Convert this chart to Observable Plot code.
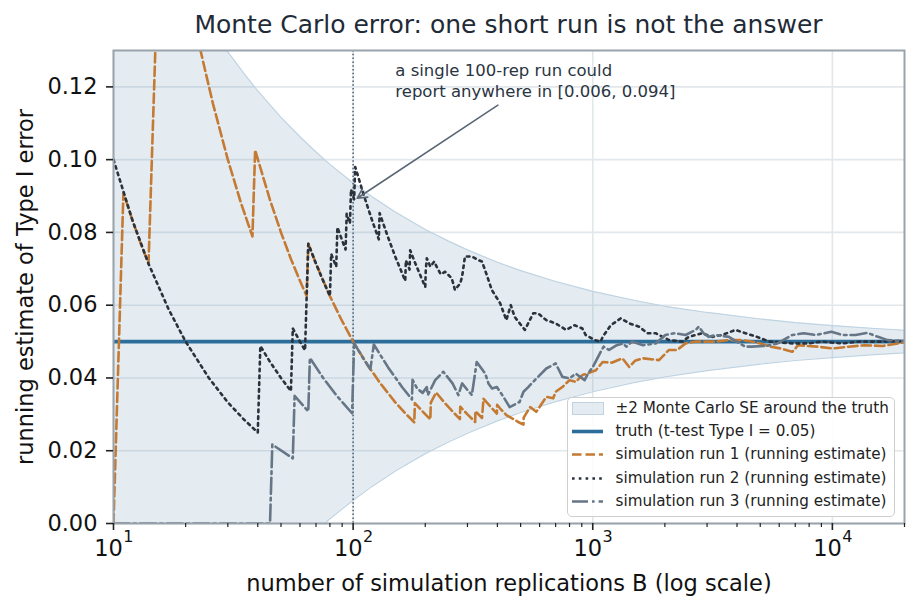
<!DOCTYPE html>
<html>
<head>
<meta charset="utf-8">
<script src="https://cdn.jsdelivr.net/npm/d3@7"></script>
<script src="https://cdn.jsdelivr.net/npm/@observablehq/plot@0.6"></script>
<style>
  html, body { margin: 0; padding: 0; background: #ffffff; }
  body { font-family: "DejaVu Sans", sans-serif; }
  #wrap { position: relative; width: 918px; height: 612px; overflow: hidden; }
  #chart { position: absolute; left: 0; top: 0; }
  #title { position: absolute; left: 113px; width: 791px; top: 9.5px; line-height: 30px;
           text-align: center; font-size: 25px; color: #1f2b37; white-space: nowrap; }
  #legend { position: absolute; left: 567px; top: 397px; width: 328px; height: 120px;
            box-sizing: border-box; border: 1.5px solid #cfcfcf; border-radius: 5px;
            background: rgba(255,255,255,0.85); }
  .row { position: absolute; left: 0; height: 23px; width: 325px; }
  .row svg { position: absolute; left: 3.5px; top: 0; }
  .row span { position: absolute; left: 47.5px; top: 0; line-height: 23px; font-size: 15.2px;
              color: #222; white-space: nowrap; }
</style>
</head>
<body>
<div id="wrap">
  <div id="chart"></div>
  <div id="title"></div>
  <div id="legend"></div>
</div>
<script>
// ---------------- data ----------------
const chartTitle = "Monte Carlo error: one short run is not the answer";
const xLabel = "number of simulation replications B (log scale)";
const yLabel = "running estimate of Type I error";
const TRUTH = 0.05;
const MARK_B = 100;

// x ticks (log scale)
const xMajorTicks = [10, 100, 1000, 10000];
const xMinorTicks = [20, 30, 40, 50, 60, 70, 80, 90, 200, 300, 400, 500, 600, 700, 800, 900,
                     2000, 3000, 4000, 5000, 6000, 7000, 8000, 9000, 20000];
const yTicks = [0, 0.02, 0.04, 0.06, 0.08, 0.10, 0.12];

// ±2 Monte Carlo SE band around the truth
const bandB  = [10, 12, 15, 20, 25, 30, 35, 40, 50, 60, 70, 80, 100, 120, 150, 200, 250, 300, 400, 500,
                700, 1000, 1500, 2000, 3000, 5000, 7000, 10000, 15000, 20000];
const bandHi = [0.1878, 0.1758, 0.1625, 0.1475, 0.1372, 0.1296, 0.1237, 0.1189, 0.1116, 0.1063, 0.1021, 0.0987,
                0.0936, 0.0898, 0.0856, 0.0808, 0.0776, 0.0752, 0.0718, 0.0695, 0.0665, 0.0638, 0.0613, 0.0597,
                0.0580, 0.0562, 0.0552, 0.0544, 0.0536, 0.0531];
const bandLo = [-0.0878, -0.0758, -0.0625, -0.0475, -0.0372, -0.0296, -0.0237, -0.0189, -0.0116, -0.0063, -0.0021, 0.0013,
                0.0064, 0.0102, 0.0144, 0.0192, 0.0224, 0.0248, 0.0282, 0.0305, 0.0335, 0.0362, 0.0388, 0.0403,
                0.0420, 0.0438, 0.0448, 0.0456, 0.0464, 0.0469];

// simulation run 1 (running estimate)
const run1B = [10, 11, 12, 13, 14, 15, 16, 18, 20, 23, 26, 30, 34, 38, 39, 45, 50, 55, 60, 64, 65, 70, 80, 90, 100,
               115, 130, 150, 165, 180, 181, 195, 210, 211, 222, 240, 260, 279, 280, 300, 323, 324, 345, 350, 372,
               398, 399, 411, 436, 488, 514, 515, 548, 581, 600, 640, 684, 700, 747, 800, 850, 905, 950, 1000, 1030,
               1100, 1200, 1330, 1420, 1500, 1620, 1890, 2080, 2250, 2440, 2690, 3000, 3260, 3700, 4200, 4600, 5000,
               5500, 6100, 6800, 7200, 8660, 10000, 11700, 13700, 16200, 20000];
const run1Est = [0, 0.0909, 0.0833, 0.0769, 0.0714, 0.1333, 0.1875, 0.1667, 0.15, 0.1304, 0.1154, 0.1, 0.0882, 0.0789,
                 0.1026, 0.0889, 0.08, 0.0727, 0.0667, 0.0625, 0.0769, 0.0714, 0.0625, 0.0556, 0.05, 0.0435, 0.0385,
                 0.0333, 0.0303, 0.0278, 0.0331, 0.0308, 0.0286, 0.0332, 0.036, 0.0333, 0.0308, 0.0287, 0.0321, 0.03,
                 0.0279, 0.0309, 0.029, 0.0343, 0.0323, 0.0302, 0.0326, 0.0316, 0.0298, 0.0279, 0.0272, 0.0291, 0.032,
                 0.0307, 0.032, 0.0348, 0.0344, 0.0362, 0.0375, 0.0394, 0.0389, 0.0408, 0.0412, 0.0418, 0.0421, 0.0444,
                 0.0442, 0.0454, 0.043, 0.0447, 0.0454, 0.0449, 0.0477, 0.0477, 0.0495, 0.05, 0.05, 0.05, 0.0504, 0.0504,
                 0.05, 0.0495, 0.0486, 0.0481, 0.0472, 0.049, 0.0486, 0.0481, 0.0486, 0.049, 0.0488, 0.0498];

// simulation run 2 (running estimate)
const run2B = [10, 12, 14, 17, 20, 25, 30, 35, 40, 41, 45, 50, 55, 56, 60, 63, 64, 65, 70, 75, 80, 81, 85, 86, 90,
               93, 94, 97, 98, 101, 102, 104, 110, 120, 128, 129, 140, 150, 165, 166, 172, 173, 181, 197, 200, 201,
               203, 210, 218, 223, 232, 242, 258, 266, 280, 285, 293, 313, 333, 345, 359, 379, 411, 436, 455, 472,
               521, 565, 590, 640, 700, 775, 840, 905, 935, 1020, 1080, 1100, 1190, 1310, 1420, 1560, 1690, 1830,
               2080, 2360, 2520, 2860, 3150, 3460, 3940, 4340, 4850, 5460, 6840, 7980, 9000, 11000, 13000, 16000, 20000];
const run2Est = [0.1, 0.0833, 0.0714, 0.0588, 0.05, 0.04, 0.0333, 0.0286, 0.025, 0.0488, 0.0444, 0.04, 0.0364, 0.0536,
                 0.05, 0.0476, 0.0625, 0.0769, 0.0714, 0.0667, 0.0625, 0.0741, 0.0706, 0.0814, 0.0778, 0.0753, 0.0851,
                 0.0825, 0.0918, 0.0891, 0.098, 0.0962, 0.0909, 0.0833, 0.0781, 0.0853, 0.0786, 0.0733, 0.0667, 0.0723,
                 0.0698, 0.0751, 0.0718, 0.066, 0.065, 0.0697, 0.0729, 0.0706, 0.072, 0.0706, 0.0685, 0.0692, 0.0674,
                 0.0642, 0.066, 0.0679, 0.0734, 0.0734, 0.0724, 0.072, 0.0688, 0.0642, 0.0605, 0.0559, 0.06, 0.0568,
                 0.0532, 0.0578, 0.0578, 0.0559, 0.055, 0.0532, 0.0545, 0.0536, 0.0518, 0.0504, 0.05, 0.0513, 0.0545,
                 0.0564, 0.055, 0.0541, 0.0523, 0.0523, 0.0504, 0.05, 0.0513, 0.0523, 0.0513, 0.0518, 0.0532, 0.0523,
                 0.0513, 0.05, 0.0495, 0.0495, 0.05, 0.0495, 0.05, 0.05, 0.0502];

// simulation run 3 (running estimate)
const run3B = [10, 45, 46, 56, 57, 64, 65, 66, 75, 85, 99, 100, 101, 110, 118, 122, 140, 160, 176, 177, 185, 195, 203,
               205, 220, 238, 260, 275, 285, 300, 313, 328, 356, 367, 380, 398, 424, 450, 495, 514, 538, 581, 640, 700,
               747, 800, 850, 925, 955, 1000, 1070, 1110, 1170, 1260, 1340, 1380, 1460, 1620, 1830, 2010, 2200, 2440,
               2690, 2770, 2900, 3050, 3260, 3700, 4100, 4340, 4600, 5300, 5900, 6800, 7600, 8500, 9900, 11000, 12500,
               14000, 15500, 17000, 20000];
const run3Est = [0, 0, 0.0217, 0.0179, 0.0351, 0.0313, 0.0308, 0.0455, 0.04, 0.0353, 0.0303, 0.04, 0.0495, 0.0455,
                 0.0424, 0.0492, 0.0429, 0.0375, 0.0341, 0.0395, 0.0371, 0.0359, 0.0375, 0.0353, 0.0394, 0.0417, 0.0385,
                 0.0353, 0.0385, 0.0367, 0.0353, 0.0444, 0.0412, 0.0385, 0.0371, 0.0375, 0.0348, 0.032, 0.0334, 0.0362,
                 0.0375, 0.0398, 0.0426, 0.044, 0.0403, 0.0399, 0.0412, 0.0394, 0.0412, 0.043, 0.0467, 0.0486, 0.0477,
                 0.049, 0.0495, 0.0486, 0.05, 0.049, 0.0495, 0.0518, 0.0523, 0.0518, 0.0532, 0.0541, 0.0523, 0.0513,
                 0.0518, 0.0513, 0.0495, 0.0486, 0.0486, 0.0488, 0.0495, 0.0518, 0.0523, 0.0518, 0.0527, 0.0518, 0.0518,
                 0.0524, 0.0513, 0.0504, 0.0502];

// annotation
const noteText = "a single 100-rep run could\nreport anywhere in [0.006, 0.094]";
const noteAt = {B: 150, y: 0.1271};
const arrowFrom = {B: 402, y: 0.1150};
const arrowTo = {B: 104, y: 0.0894};

const legendLabels = [
  "\u00b12 Monte Carlo SE around the truth",
  "truth (t-test Type I = 0.05)",
  "simulation run 1 (running estimate)",
  "simulation run 2 (running estimate)",
  "simulation run 3 (running estimate)"
];

// ---------------- styling ----------------
const C = {
  bandFill: "#4a7fa8", bandEdge: "#bfd3e2", truth: "#2c6e99",
  run1: "#c47a32", run2: "#2b323c", run3: "#667686",
  grid: "#e2e7ec", frame: "#9aa3ab", vline: "#4c5d70", arrow: "#5a6776", note: "#2a3542"
};
const LW = 2.6;
const DASH1 = "9.5,4", DASH2 = "2.6,4.2", DASH3 = "16,4,2.6,4";

const band = bandB.map((B, i) => ({B, hi: bandHi[i], lo: bandLo[i]}));
const mk = (bs, ys) => bs.map((B, i) => ({B, y: ys[i]}));
const run1 = mk(run1B, run1Est), run2 = mk(run2B, run2Est), run3 = mk(run3B, run3Est);

const chart = Plot.plot({
  width: 918, height: 612,
  marginLeft: 113, marginRight: 14, marginTop: 50, marginBottom: 89,
  style: {fontFamily: "DejaVu Sans", background: "transparent", color: "#222", overflow: "visible"},
  x: {type: "log", domain: [10, 20000]},
  y: {domain: [0, 0.13]},
  marks: [
    Plot.gridX(xMajorTicks, {stroke: C.grid, strokeOpacity: 1, strokeWidth: 1.6}),
    Plot.gridY(yTicks, {stroke: C.grid, strokeOpacity: 1, strokeWidth: 1.6}),
    Plot.areaY(band, {x: "B", y1: "lo", y2: "hi", fill: C.bandFill, fillOpacity: 0.15, clip: true}),
    Plot.line(band, {x: "B", y: "hi", stroke: C.bandEdge, strokeWidth: 1.2, clip: true}),
    Plot.line(band, {x: "B", y: "lo", stroke: C.bandEdge, strokeWidth: 1.2, clip: true}),
    Plot.ruleX([MARK_B], {stroke: C.vline, strokeWidth: 1.5, strokeDasharray: "1.5,2.3"}),
    Plot.ruleY([TRUTH], {stroke: C.truth, strokeWidth: 3.6}),
    Plot.line(run1, {x: "B", y: "y", stroke: C.run1, strokeWidth: LW, strokeDasharray: DASH1, clip: true}),
    Plot.line(run2, {x: "B", y: "y", stroke: C.run2, strokeWidth: LW, strokeDasharray: DASH2, clip: true}),
    Plot.line(run3, {x: "B", y: "y", stroke: C.run3, strokeWidth: LW, strokeDasharray: DASH3, clip: true}),
    Plot.arrow([0], {x1: () => arrowFrom.B, y1: () => arrowFrom.y, x2: () => arrowTo.B, y2: () => arrowTo.y,
                     stroke: C.arrow, strokeWidth: 1.6, headLength: 10, headAngle: 55}),
    Plot.text([noteText], {x: () => noteAt.B, y: () => noteAt.y, text: d => d, textAnchor: "start",
                           lineAnchor: "top", lineHeight: 1.27, fontSize: 16.5, fill: C.note}),
    Plot.frame({stroke: C.frame, strokeWidth: 2}),
    Plot.axisY(yTicks, {tickFormat: ".2f", tickSize: 7, tickPadding: 9, fontSize: 22.5, stroke: "#222",
                        strokeWidth: 1.6, fill: "#111", label: yLabel, labelAnchor: "center",
                        labelOffset: 96, labelArrow: "none"}),
    Plot.axisX(xMinorTicks, {tickSize: 4, strokeWidth: 1.2, stroke: "#222", tickFormat: () => "", label: null}),
    Plot.axisX(xMajorTicks, {tickSize: 7, strokeWidth: 1.6, stroke: "#222", tickFormat: () => "", fontSize: 22.5,
                             fill: "#111", label: xLabel, labelAnchor: "center", labelOffset: 67, labelArrow: "none"}),
    Plot.text(xMajorTicks, {x: d => d, text: () => "10", frameAnchor: "bottom", textAnchor: "end",
                            lineAnchor: "top", dx: 9.4, dy: 16.5, fontSize: 22.5, fill: "#111"}),
    Plot.text(xMajorTicks, {x: d => d, text: d => String(Math.round(Math.log10(d))), frameAnchor: "bottom",
                            textAnchor: "start", lineAnchor: "top", dx: 9.8, dy: 7.5, fontSize: 16, fill: "#111"})
  ]
});
document.getElementById("chart").appendChild(chart);
document.getElementById("title").textContent = chartTitle;

// ---------------- legend ----------------
const handles = [
  `<rect x="0.5" y="5.5" width="31" height="12" fill="${C.bandFill}" fill-opacity="0.15" stroke="${C.bandEdge}" stroke-width="1"/>`,
  `<line x1="0" y1="11.5" x2="31" y2="11.5" stroke="${C.truth}" stroke-width="3.6"/>`,
  `<line x1="0" y1="11.5" x2="31" y2="11.5" stroke="${C.run1}" stroke-width="${LW}" stroke-dasharray="${DASH1}"/>`,
  `<line x1="0" y1="11.5" x2="31" y2="11.5" stroke="${C.run2}" stroke-width="${LW}" stroke-dasharray="${DASH2}"/>`,
  `<line x1="0" y1="11.5" x2="31" y2="11.5" stroke="${C.run3}" stroke-width="${LW}" stroke-dasharray="${DASH3}"/>`
];
const rowCenters = [10, 33, 56, 80, 103];
const leg = document.getElementById("legend");
legendLabels.forEach((lab, i) => {
  const r = document.createElement("div");
  r.className = "row";
  r.style.top = (rowCenters[i] - 11.5) + "px";
  r.innerHTML = `<svg width="32" height="23">${handles[i]}</svg><span></span>`;
  r.querySelector("span").textContent = lab;
  leg.appendChild(r);
});
</script>
</body>
</html>
